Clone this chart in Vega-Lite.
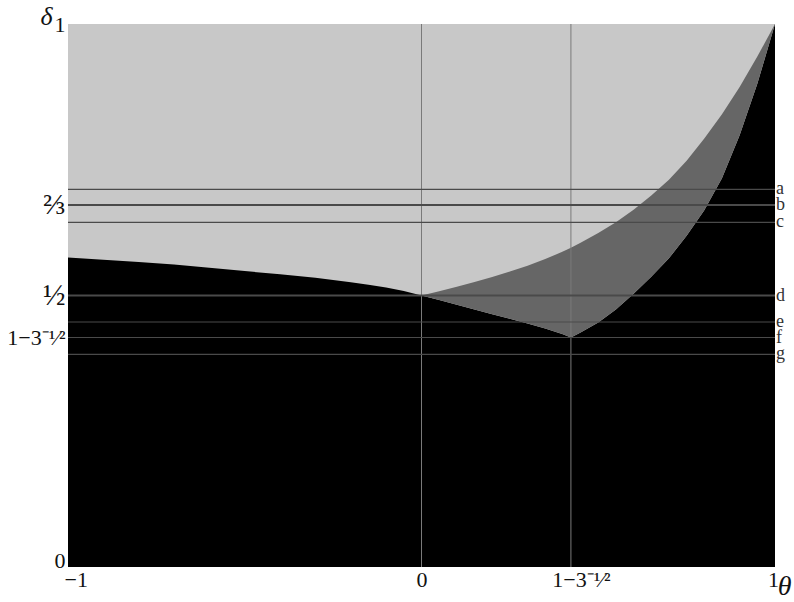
{
  "$schema": "https://vega.github.io/schema/vega-lite/v6.json",
  "width": 707,
  "height": 543,
  "autosize": "none",
  "padding": {"left": 68, "top": 24, "right": 19, "bottom": 35},
  "background": "white",
  "config": {"view": {"stroke": null, "fill": "#000000"}, "font": "Liberation Serif"},
  "datasets": {
    "regions": [
      {"theta": -1, "lower": 0.570, "upper": 0.570},
      {"theta": -0.9, "lower": 0.566, "upper": 0.566},
      {"theta": -0.8, "lower": 0.5615, "upper": 0.5615},
      {"theta": -0.7, "lower": 0.557, "upper": 0.557},
      {"theta": -0.6, "lower": 0.551, "upper": 0.551},
      {"theta": -0.5, "lower": 0.545, "upper": 0.545},
      {"theta": -0.4, "lower": 0.539, "upper": 0.539},
      {"theta": -0.3, "lower": 0.5325, "upper": 0.5325},
      {"theta": -0.2, "lower": 0.5245, "upper": 0.5245},
      {"theta": -0.15, "lower": 0.52, "upper": 0.52},
      {"theta": -0.1, "lower": 0.5148, "upper": 0.5148},
      {"theta": -0.05, "lower": 0.5083, "upper": 0.5083},
      {"theta": 0, "lower": 0.5, "upper": 0.5},
      {"theta": 0.05, "lower": 0.4915, "upper": 0.508},
      {"theta": 0.1, "lower": 0.4828, "upper": 0.516},
      {"theta": 0.15, "lower": 0.474, "upper": 0.525},
      {"theta": 0.2, "lower": 0.4655, "upper": 0.534},
      {"theta": 0.25, "lower": 0.457, "upper": 0.544},
      {"theta": 0.3, "lower": 0.4483, "upper": 0.555},
      {"theta": 0.35, "lower": 0.439, "upper": 0.567},
      {"theta": 0.4, "lower": 0.4285, "upper": 0.581},
      {"theta": 0.42265, "lower": 0.42265, "upper": 0.588},
      {"theta": 0.45, "lower": 0.432, "upper": 0.597},
      {"theta": 0.5, "lower": 0.4505, "upper": 0.615},
      {"theta": 0.55, "lower": 0.474, "upper": 0.635},
      {"theta": 0.6, "lower": 0.503, "upper": 0.658},
      {"theta": 0.65, "lower": 0.5345, "upper": 0.684},
      {"theta": 0.7, "lower": 0.5685, "upper": 0.713},
      {"theta": 0.75, "lower": 0.61, "upper": 0.748},
      {"theta": 0.8, "lower": 0.657, "upper": 0.789},
      {"theta": 0.85, "lower": 0.716, "upper": 0.834},
      {"theta": 0.9, "lower": 0.795, "upper": 0.884},
      {"theta": 0.95, "lower": 0.89, "upper": 0.94},
      {"theta": 1, "lower": 1, "upper": 1}
    ],
    "levels": [
      {"label": "a", "delta": 0.6956},
      {"label": "b", "delta": 0.66667},
      {"label": "c", "delta": 0.6348},
      {"label": "d", "delta": 0.5},
      {"label": "e", "delta": 0.4512},
      {"label": "f", "delta": 0.42265},
      {"label": "g", "delta": 0.3917}
    ],
    "verticals": [{"theta": 0}, {"theta": 0.42265}]
  },
  "layer": [
    {
      "data": {"name": "regions"},
      "mark": {"type": "area", "color": "#c8c8c8", "interpolate": "linear"},
      "encoding": {
        "x": {
          "field": "theta", "type": "quantitative", "title": "θ",
          "scale": {"domain": [-1, 1], "nice": false, "zero": false},
          "axis": {
            "values": [-1, 0, 0.42265, 1],
            "labelExpr": "datum.value == -1 ? '−1' : datum.value == 0 ? '0' : datum.value == 1 ? '1' : '1−3⁻¹⁄²'",
            "domain": false, "ticks": false, "grid": false,
            "labelFontSize": 22, "labelColor": "#111111", "labelPadding": 2,
            "labelFlush": false, "labelOverlap": false,
            "labelAlign": {"condition": {"test": "datum.value == -1", "value": "left"}, "value": "center"},
            "labelOffset": {"condition": [{"test": "datum.value == -1", "value": -4}, {"test": "datum.value > 0.4 && datum.value < 0.5", "value": 10}, {"test": "datum.value == 1", "value": -2}], "value": 0},
            "titleX": 716, "titleY": 19, "titleFontStyle": "italic", "titleFontWeight": "normal",
            "titleFontSize": 28, "titleAlign": "center", "titleBaseline": "middle", "titleColor": "#111111"
          }
        },
        "y": {
          "field": "lower", "type": "quantitative", "title": "δ",
          "scale": {"domain": [0, 1], "nice": false, "zero": false},
          "axis": {
            "values": [0, 0.42265, 0.5, 0.66667, 1],
            "labelExpr": "datum.value == 0 ? '0' : datum.value == 1 ? '1' : datum.value == 0.5 ? '½' : datum.value > 0.6 ? '⅔' : '1−3⁻¹⁄²'",
            "domain": false, "ticks": false, "grid": false,
            "labelFontSize": {"condition": {"test": "datum.value == 0.5 || (datum.value > 0.6 && datum.value < 0.7)", "value": 30}, "value": 22},
            "labelColor": "#111111", "labelPadding": 3, "labelFlush": false, "labelOverlap": false,
            "labelBaseline": {"condition": {"test": "datum.value == 0", "value": "alphabetic"}, "value": "middle"},
            "titleAngle": 0, "titleX": -22, "titleY": -8, "titleFontStyle": "italic", "titleFontWeight": "normal",
            "titleFontSize": 26, "titleAlign": "center", "titleBaseline": "middle", "titleColor": "#111111"
          }
        },
        "y2": {"datum": 1}
      }
    },
    {
      "data": {"name": "regions"},
      "transform": [{"filter": "datum.theta >= 0"}],
      "mark": {"type": "area", "color": "#666666", "interpolate": "linear"},
      "encoding": {
        "x": {"field": "theta", "type": "quantitative", "title": "θ"},
        "y": {"field": "lower", "type": "quantitative", "title": "δ"},
        "y2": {"field": "upper"}
      }
    },
    {
      "data": {"name": "verticals"},
      "mark": {"type": "rule", "color": "#7a7a7a", "strokeWidth": 1},
      "encoding": {
        "x": {"field": "theta", "type": "quantitative", "title": "θ"}
      }
    },
    {
      "data": {"name": "levels"},
      "mark": {"type": "rule", "color": "#4a4a4a"},
      "encoding": {
        "y": {"field": "delta", "type": "quantitative", "title": "δ"},
        "strokeWidth": {"condition": {"test": "datum.label === 'b' || datum.label === 'd'", "value": 2}, "value": 1.2}
      }
    },
    {
      "data": {"name": "levels"},
      "mark": {"type": "text", "align": "left", "baseline": "middle", "dx": 1, "fontSize": 18, "color": "#333333"},
      "encoding": {
        "x": {"datum": 1, "type": "quantitative"},
        "y": {"field": "delta", "type": "quantitative", "title": "δ"},
        "text": {"field": "label"}
      }
    }
  ]
}
